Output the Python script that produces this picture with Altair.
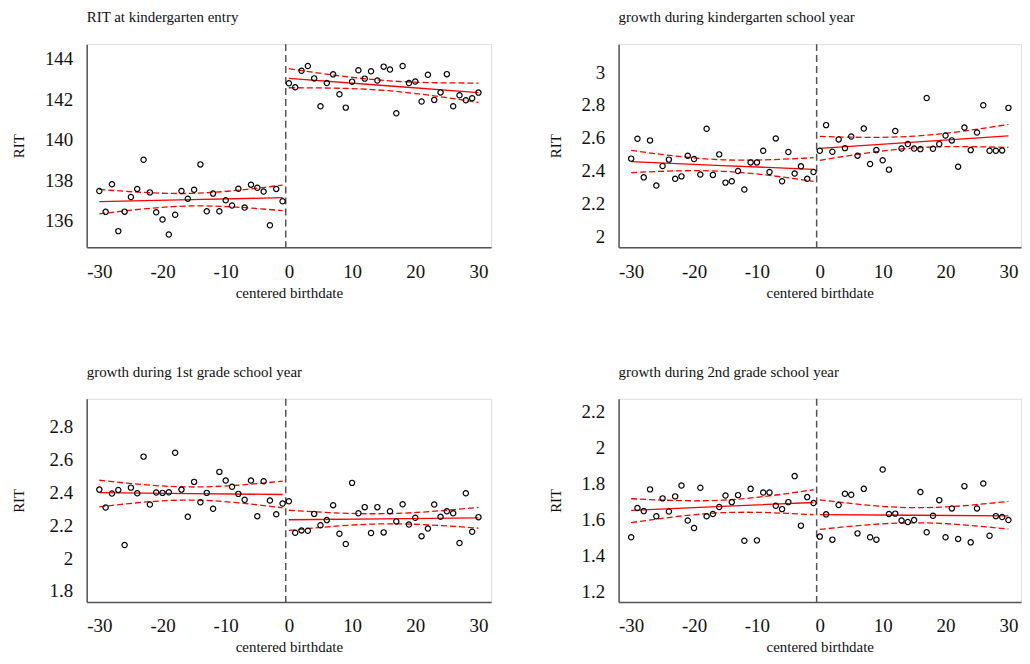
import altair as alt
import pandas as pd

FONT = "Liberation Serif"

# ---------------- data ----------------
X_LEFT = [-30, -29, -28, -27, -26, -25, -24, -23, -22, -21, -20, -19, -18, -17, -16,
          -15, -14, -13, -12, -11, -10, -9, -8, -7, -6, -5, -4, -3, -2, -1]
X_RIGHT = [0, 1, 2, 3, 4, 5, 6, 7, 8, 9, 10, 11, 12, 13, 14, 15,
           16, 17, 18, 19, 20, 21, 22, 23, 24, 25, 26, 27, 28, 29, 30]
X_TICKS = [-30, -20, -10, 0, 10, 20, 30]
FIT_X_LEFT = [-30, -15.5, -1]
FIT_X_RIGHT = [0, 15, 30]
CUTOFF = [-0.5]

TITLES = ["RIT at kindergarten entry",
          "growth during kindergarten school year",
          "growth during 1st grade school year",
          "growth during 2nd grade school year"]

# panel 1
P1_LEFT = [137.48, 136.45, 137.81, 135.50, 136.46, 137.18, 137.58, 139.02, 137.41, 136.43,
           136.07, 135.33, 136.31, 137.48, 137.10, 137.54, 138.79, 136.48, 137.35, 136.48,
           137.02, 136.76, 137.59, 136.66, 137.79, 137.64, 137.45, 135.79, 137.58, 136.97]
P1_RIGHT = [142.79, 142.59, 143.41, 143.64, 143.03, 141.66, 142.80, 143.23, 142.25, 141.59,
            142.87, 143.43, 143.02, 143.38, 142.93, 143.61, 143.47, 141.31, 143.64, 142.80,
            142.88, 141.89, 143.21, 141.97, 142.34, 143.24, 141.66, 142.20, 141.95, 142.05, 142.33]
P1_FIT_LEFT = [136.95, 137.05, 137.15]
P1_UP_LEFT = [137.56, 137.36, 137.77]
P1_LO_LEFT = [136.35, 136.74, 136.51]
P1_FIT_RIGHT = [143.03, 142.68, 142.33]
P1_UP_RIGHT = [143.51, 142.93, 142.80]
P1_LO_RIGHT = [142.57, 142.44, 141.85]
P1_DOMAIN = [134.7, 144.72]
P1_TICKS = [136, 138, 140, 142, 144]

# panel 2
P2_LEFT = [2.473, 2.594, 2.359, 2.584, 2.309, 2.428, 2.467, 2.350, 2.365, 2.491,
           2.471, 2.376, 2.655, 2.374, 2.499, 2.327, 2.335, 2.398, 2.285, 2.450,
           2.450, 2.521, 2.392, 2.596, 2.335, 2.513, 2.382, 2.426, 2.350, 2.392]
P2_RIGHT = [2.521, 2.677, 2.515, 2.590, 2.537, 2.608, 2.491, 2.656, 2.440, 2.525,
            2.463, 2.406, 2.641, 2.535, 2.562, 2.535, 2.531, 2.842, 2.533, 2.562,
            2.614, 2.584, 2.424, 2.662, 2.525, 2.632, 2.798, 2.521, 2.521, 2.523, 2.782]
P2_FIT_LEFT = [2.455, 2.431, 2.408]
P2_UP_LEFT = [2.523, 2.466, 2.479]
P2_LO_LEFT = [2.388, 2.396, 2.335]
P2_FIT_RIGHT = [2.535, 2.574, 2.612]
P2_UP_RIGHT = [2.608, 2.610, 2.681]
P2_LO_RIGHT = [2.463, 2.538, 2.541]
P2_DOMAIN = [1.933, 3.17]
P2_TICKS = [2, 2.2, 2.4, 2.6, 2.8, 3]

# panel 3
P3_LEFT = [2.418, 2.309, 2.394, 2.416, 2.080, 2.430, 2.396, 2.619, 2.327, 2.400,
           2.398, 2.402, 2.643, 2.418, 2.252, 2.465, 2.341, 2.398, 2.301, 2.526,
           2.473, 2.435, 2.392, 2.356, 2.473, 2.256, 2.469, 2.351, 2.268, 2.333]
P3_RIGHT = [2.347, 2.155, 2.169, 2.167, 2.270, 2.201, 2.232, 2.323, 2.149, 2.086,
            2.459, 2.274, 2.311, 2.153, 2.311, 2.157, 2.286, 2.224, 2.329, 2.205,
            2.246, 2.134, 2.181, 2.327, 2.252, 2.286, 2.274, 2.092, 2.396, 2.161, 2.250]
P3_FIT_LEFT = [2.400, 2.394, 2.388]
P3_UP_LEFT = [2.475, 2.434, 2.469]
P3_LO_LEFT = [2.313, 2.354, 2.307]
P3_FIT_RIGHT = [2.234, 2.240, 2.246]
P3_UP_RIGHT = [2.292, 2.271, 2.309]
P3_LO_RIGHT = [2.169, 2.209, 2.183]
P3_DOMAIN = [1.733, 2.972]
P3_TICKS = [1.8, 2, 2.2, 2.4, 2.6, 2.8]

# panel 4
P4_LEFT = [1.500, 1.663, 1.646, 1.767, 1.617, 1.717, 1.644, 1.728, 1.789, 1.594,
           1.552, 1.776, 1.617, 1.630, 1.669, 1.733, 1.696, 1.735, 1.481, 1.770,
           1.483, 1.750, 1.750, 1.676, 1.657, 1.696, 1.841, 1.565, 1.724, 1.691]
P4_RIGHT = [1.504, 1.628, 1.487, 1.680, 1.743, 1.737, 1.522, 1.770, 1.500, 1.487,
            1.878, 1.630, 1.632, 1.594, 1.585, 1.596, 1.752, 1.528, 1.620, 1.707,
            1.500, 1.661, 1.491, 1.785, 1.472, 1.661, 1.800, 1.509, 1.618, 1.613, 1.596]
P4_FIT_LEFT = [1.650, 1.672, 1.694]
P4_UP_LEFT = [1.715, 1.707, 1.765]
P4_LO_LEFT = [1.582, 1.637, 1.626]
P4_FIT_RIGHT = [1.626, 1.623, 1.620]
P4_UP_RIGHT = [1.709, 1.665, 1.700]
P4_LO_RIGHT = [1.544, 1.581, 1.546]
P4_DOMAIN = [1.14, 2.272]
P4_TICKS = [1.2, 1.4, 1.6, 1.8, 2, 2.2]


def line_frame(fit_l, up_l, lo_l, fit_r, up_r, lo_r):
    rows = []
    for seg, xs, groups in (("L", FIT_X_LEFT, (("fit", fit_l), ("up", up_l), ("lo", lo_l))),
                            ("R", FIT_X_RIGHT, (("fit", fit_r), ("up", up_r), ("lo", lo_r)))):
        for kind, vals in groups:
            for x, y in zip(xs, vals):
                rows.append({"x": x, "y": y, "kind": kind, "grp": seg + kind})
    return pd.DataFrame(rows)


def panel(title, left, right, lines, domain, ticks, width, height, ytitle_pad=18):
    pts = pd.DataFrame({"x": X_LEFT + X_RIGHT, "y": left + right})
    xs = alt.Scale(domain=[-32, 32], nice=False, zero=False)
    ys = alt.Scale(domain=domain, nice=False, zero=False)
    xaxis = alt.Axis(values=X_TICKS, labelExpr="'' + datum.value", title="centered birthdate",
                     grid=False, ticks=False, tickSize=0, labelPadding=15, titlePadding=4,
                     domainColor="#555555", domainWidth=1.5, labelFontSize=19,
                     titleFontSize=15, labelFont=FONT, titleFont=FONT,
                     labelColor="#111111", titleColor="#111111", titleFontWeight="normal")
    yaxis = alt.Axis(values=ticks, labelExpr="'' + datum.value", title="RIT",
                     grid=False, ticks=False, tickSize=0, labelPadding=14, titlePadding=ytitle_pad,
                     domainColor="#555555", domainWidth=1.5, labelFontSize=19,
                     titleFontSize=15, labelFont=FONT, titleFont=FONT,
                     labelColor="#111111", titleColor="#111111", titleFontWeight="normal")

    rule = alt.Chart(pd.DataFrame({"x": CUTOFF})).mark_rule(
        color="#555555", strokeWidth=1.5, strokeDash=[7, 4]
    ).encode(x=alt.X("x:Q", scale=xs, axis=xaxis))

    fit = alt.Chart(lines).transform_filter("datum.kind == 'fit'").mark_line(
        color="#ff0000", strokeWidth=1.3
    ).encode(x=alt.X("x:Q", scale=xs), y=alt.Y("y:Q", scale=ys, axis=yaxis), detail="grp:N")

    ci = alt.Chart(lines).transform_filter("datum.kind != 'fit'").mark_line(
        color="#ff0000", strokeWidth=1.3, strokeDash=[6, 3], interpolate="natural"
    ).encode(x=alt.X("x:Q", scale=xs), y=alt.Y("y:Q", scale=ys), detail="grp:N")

    points = alt.Chart(pts).mark_point(
        shape="circle", filled=False, color="black", size=28, strokeWidth=1.2, opacity=1
    ).encode(x=alt.X("x:Q", scale=xs), y=alt.Y("y:Q", scale=ys))

    return alt.layer(rule, ci, fit, points).properties(
        width=width, height=height,
        title=alt.TitleParams(text=title, anchor="start", frame="group", fontSize=15,
                              font=FONT, fontWeight="normal", color="#111111",
                              baseline="alphabetic", offset=6),
    )


p1 = panel(TITLES[0], P1_LEFT, P1_RIGHT,
           line_frame(P1_FIT_LEFT, P1_UP_LEFT, P1_LO_LEFT, P1_FIT_RIGHT, P1_UP_RIGHT, P1_LO_RIGHT),
           P1_DOMAIN, P1_TICKS, 406, 204)
p2 = panel(TITLES[1], P2_LEFT, P2_RIGHT,
           line_frame(P2_FIT_LEFT, P2_UP_LEFT, P2_LO_LEFT, P2_FIT_RIGHT, P2_UP_RIGHT, P2_LO_RIGHT),
           P2_DOMAIN, P2_TICKS, 404, 204)
p3 = panel(TITLES[2], P3_LEFT, P3_RIGHT,
           line_frame(P3_FIT_LEFT, P3_UP_LEFT, P3_LO_LEFT, P3_FIT_RIGHT, P3_UP_RIGHT, P3_LO_RIGHT),
           P3_DOMAIN, P3_TICKS, 406, 204, ytitle_pad=23)
p4 = panel(TITLES[3], P4_LEFT, P4_RIGHT,
           line_frame(P4_FIT_LEFT, P4_UP_LEFT, P4_LO_LEFT, P4_FIT_RIGHT, P4_UP_RIGHT, P4_LO_RIGHT),
           P4_DOMAIN, P4_TICKS, 404, 204)

chart = alt.concat(p1, p2, p3, p4, columns=2, spacing={"column": 55, "row": 63},
                   align="none").properties(
    padding={"left": 2, "top": 0, "right": 0, "bottom": 0}
).configure_view(stroke=None).configure(background="white")

chart.save("out.html", embed_options={"renderer": "svg", "actions": False})
